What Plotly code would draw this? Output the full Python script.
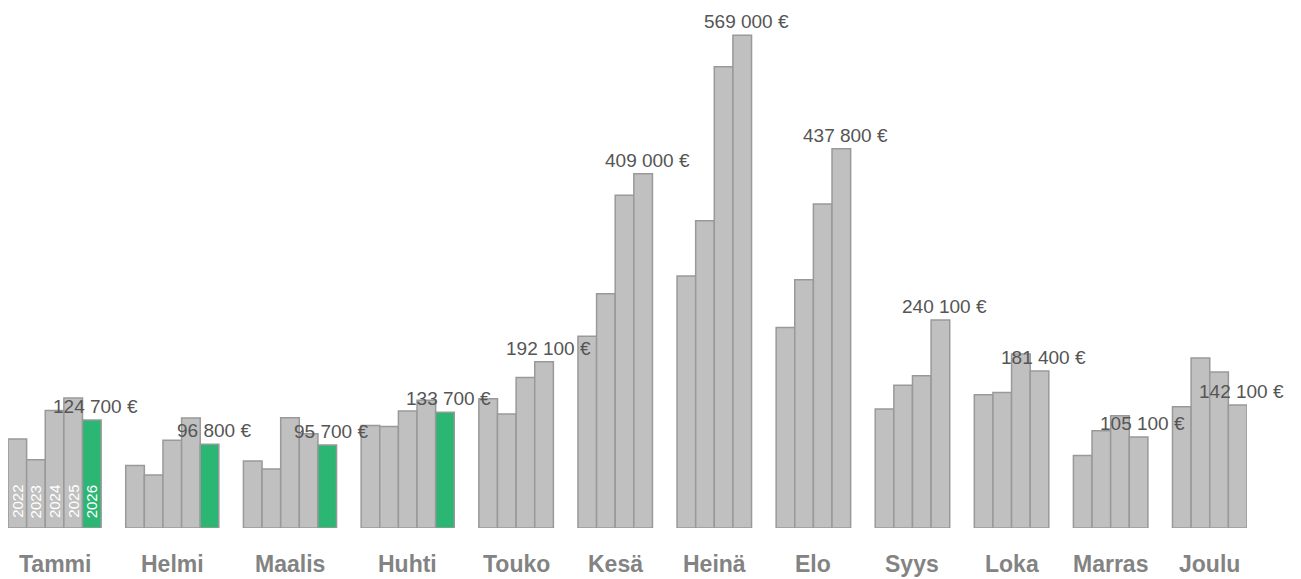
import plotly.graph_objects as go

months = ["Tammi", "Helmi", "Maalis", "Huhti", "Touko", "Kesä",
          "Heinä", "Elo", "Syys", "Loka", "Marras", "Joulu"]
years = ["2022", "2023", "2024", "2025", "2026"]

v2022 = [102800, 72300, 77400, 118500, 149300, 221300, 291000, 231600, 137400, 153900, 83800, 140100]
v2023 = [78900, 61200, 68100, 117300, 131600, 270600, 354900, 286700, 164700, 156600, 112400, 196300]
v2024 = [135800, 101200, 127400, 135100, 173900, 384100, 532700, 374100, 175900, 200900, 129700, 180100]
v2025 = [150100, 127000, 108900, 147400, 192100, 409000, 569000, 437800, 240100, 181400, 105100, 142100]
v2026 = [124700, 96800, 95700, 133700, None, None, None, None, None, None, None, None]

series = [v2022, v2023, v2024, v2025, v2026]
colors = ["#c0c0c0", "#c0c0c0", "#c0c0c0", "#c0c0c0", "#2bb673"]

GAP = 1.32  # gap between month groups, in bar widths

# compute bar positions from data
positions = {}  # (year_idx, month_idx) -> x
centers = []
last_bar = []
cursor = 0.0
for m in range(len(months)):
    idxs = [k for k in range(len(years)) if series[k][m] is not None]
    xs = []
    for j, k in enumerate(idxs):
        positions[(k, m)] = cursor + j
        xs.append(cursor + j)
    centers.append((xs[0] + xs[-1]) / 2)
    last_bar.append((xs[-1], series[idxs[-1]][m]))
    cursor += len(idxs) + GAP
x_end = cursor - GAP - 1

fig = go.Figure()
for k, yr in enumerate(years):
    xs, ys = [], []
    for m in range(len(months)):
        if series[k][m] is not None:
            xs.append(positions[(k, m)])
            ys.append(series[k][m])
    fig.add_trace(go.Bar(
        x=xs, y=ys, width=1, name=yr,
        marker=dict(color=colors[k], line=dict(color="#999999", width=1.5)),
        hoverinfo="skip",
    ))

annotations = []
FONT = "Liberation Sans, Arial, Helvetica, sans-serif"
for m, name in enumerate(months):
    annotations.append(dict(
        x=centers[m], y=0, xref="x", yref="y", text=f"<b>{name}</b>",
        showarrow=False, yanchor="top", yshift=-21,
        font=dict(family=FONT, size=23, color="#838383"),
    ))
    xb, val = last_bar[m]
    annotations.append(dict(
        x=xb, y=val, xref="x", yref="y",
        text=f"{val:,}".replace(",", " ") + " €",
        showarrow=False, yanchor="bottom", xshift=4, yshift=1,
        font=dict(family=FONT, size=19, color="#555555"),
    ))
# year labels inside first month's bars
for k, yr in enumerate(years):
    if series[k][0] is not None:
        annotations.append(dict(
            x=positions[(k, 0)], y=0, xref="x", yref="y", text=yr,
            showarrow=False, yanchor="bottom", yshift=8, textangle=-90,
            font=dict(family=FONT, size=15, color="#ffffff"),
        ))

fig.update_layout(
    width=1293, height=571,
    margin=dict(l=0, r=54, t=12, b=51, autoexpand=False),
    paper_bgcolor="white", plot_bgcolor="white",
    barmode="overlay", showlegend=False,
    annotations=annotations,
    xaxis=dict(range=[-0.5, x_end + 0.5], showgrid=False, zeroline=False,
               showticklabels=False, showline=False, fixedrange=True),
    yaxis=dict(range=[0, 586600], showgrid=False, zeroline=False,
               showticklabels=False, showline=False, fixedrange=True),
)

fig.write_html("out.html")
